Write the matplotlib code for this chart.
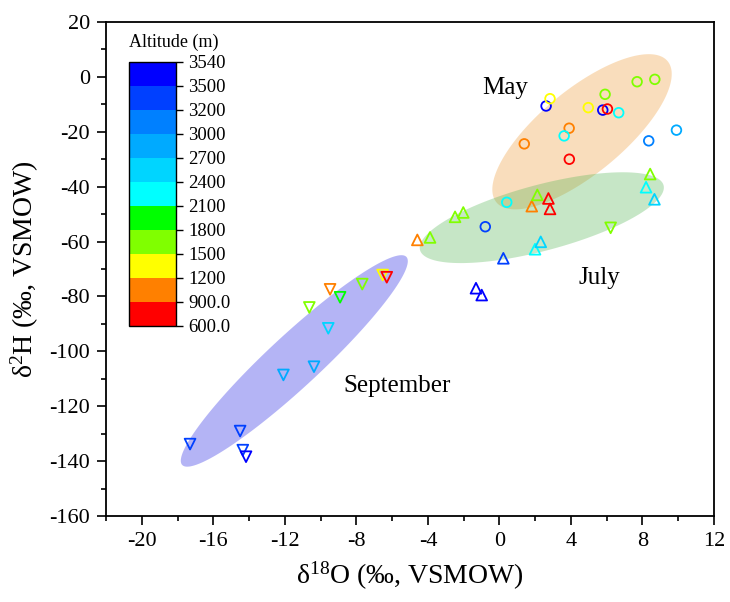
import numpy as np
import matplotlib
matplotlib.use("Agg")
import matplotlib.pyplot as plt
from matplotlib.colors import ListedColormap, BoundaryNorm
from matplotlib.patches import Polygon

plt.rcParams['font.family'] = ['Liberation Serif', 'DejaVu Serif']
plt.rcParams['mathtext.fontset'] = 'custom'
plt.rcParams['mathtext.rm'] = 'Liberation Serif'
plt.rcParams['mathtext.it'] = 'Liberation Serif:italic'
plt.rcParams['axes.unicode_minus'] = False

# ---------------- data ----------------
# May (circles)
may_x = [1.39, 2.61, 2.83, 3.90, 3.62, 3.91, 4.97, 5.78, 6.04, 5.91, 6.67, 7.70, 8.69, 8.35, 9.90, 0.41, -0.79]
may_y = [-24.4, -10.6, -7.95, -18.7, -21.5, -30.0, -11.2, -12.1, -11.7, -6.35, -13.05, -1.76, -0.9, -23.3, -19.4, -45.7, -54.6]
may_alt = [1050, 3520, 1350, 1050, 2250, 750, 1350, 3520, 750, 1650, 2250, 1650, 1650, 3100, 2850, 2250, 3350]

# July (up triangles)
jul_x = [-4.59, -3.88, -2.48, -2.02, 0.22, -1.31, -0.99, 1.99, 2.31, 1.81, 2.12, 2.74, 2.83, 8.43, 8.20, 8.67]
jul_y = [-59.4, -58.5, -51.0, -49.4, -66.1, -77.0, -79.5, -62.8, -60.1, -47.1, -43.0, -44.3, -48.1, -35.4, -40.2, -44.6]
jul_alt = [1050, 1650, 1650, 1650, 3350, 3520, 3520, 2250, 2550, 1050, 1650, 750, 750, 1650, 2250, 2550]

# September (down triangles)
sep_x = [6.22, -17.30, -14.50, -14.35, -14.17, -12.08, -10.37, -9.57, -10.63, -9.47, -8.91, -7.67, -6.53, -6.30]
sep_y = [-55.0, -133.8, -129.05, -136.0, -138.4, -108.6, -105.6, -91.6, -84.0, -77.4, -80.3, -75.5, -72.2, -73.0]
sep_alt = [1650, 3350, 3350, 3350, 3520, 2850, 2850, 2550, 1650, 1050, 1950, 1650, 1350, 750]

# colour scale
levels = [600, 900, 1200, 1500, 1800, 2100, 2400, 2700, 3000, 3200, 3500, 3540]
level_labels = ['600.0', '900.0', '1200', '1500', '1800', '2100', '2400', '2700', '3000', '3200', '3500', '3540']
band_colors = ['#FF0000', '#FF8000', '#FFFF00', '#80FF00', '#00FF00', '#00FFFF',
               '#00D5FF', '#00AAFF', '#0080FF', '#0040FF', '#0000FF']

# group ellipses: centre, first and second conjugate semi-axis vectors (data units)
ell_names = ['May', 'July', 'September']
ell_cx = [4.62, 2.37, -11.47]
ell_cy = [-20.0, -51.3, -103.5]
ell_v1 = [(4.79, 25.7), (6.81, 11.8), (6.27, 37.9)]
ell_v2 = [(-1.49, 11.8), (-0.475, 11.6), (-0.99, 6.95)]
ell_colors = ['#F0A040', '#50B450', '#5A5AEB']
ell_alpha = [0.35, 0.32, 0.45]

# group labels
lab_text = ['May', 'July', 'September']
lab_x = [0.32, 5.57, -5.73]
lab_y = [-4.2, -73.3, -112.7]

xticks = [-20, -16, -12, -8, -4, 0, 4, 8, 12]
yticks = [-160, -140, -120, -100, -80, -60, -40, -20, 0, 20]

# ---------------- figure ----------------
fig = plt.figure(figsize=(7.30, 6.02), dpi=100)
ax = fig.add_axes([106/730, 1-516/602, (714-106)/730, (516-22)/602])

cmap = ListedColormap(band_colors)
norm = BoundaryNorm(levels, cmap.N)

t = np.linspace(0, 2*np.pi, 200)
for cx, cy, v1, v2, col, al in zip(ell_cx, ell_cy, ell_v1, ell_v2, ell_colors, ell_alpha):
    px = cx + np.cos(t)*v1[0] + np.sin(t)*v2[0]
    py = cy + np.cos(t)*v1[1] + np.sin(t)*v2[1]
    ax.add_patch(Polygon(np.column_stack([px, py]), closed=True,
                         facecolor=col, alpha=al, edgecolor='none', zorder=1))

ax.scatter(may_x, may_y, s=48, marker='o', facecolors='none',
           edgecolors=cmap(norm(may_alt)), linewidths=1.3, zorder=3)
ax.scatter(jul_x, jul_y, s=60, marker='^', facecolors='none',
           edgecolors=cmap(norm(jul_alt)), linewidths=1.3, zorder=3)
ax.scatter(sep_x, sep_y, s=60, marker='v', facecolors='none',
           edgecolors=cmap(norm(sep_alt)), linewidths=1.3, zorder=3)

for txt, x, y in zip(lab_text, lab_x, lab_y):
    ax.text(x, y, txt, fontsize=18, ha='center', va='center', zorder=4)

ax.set_xlim(-22, 12)
ax.set_ylim(-160, 20)
ax.set_xticks(xticks)
ax.set_yticks(yticks)
ax.set_xticks(np.arange(-22, 12.1, 2), minor=True)
ax.set_yticks(np.arange(-160, 20.1, 10), minor=True)
ax.tick_params(which='major', direction='out', length=6.5, width=1.2, labelsize=16, pad=5,
               top=False, right=False)
ax.tick_params(which='minor', direction='out', length=3.5, width=1.2, top=False, right=False)
for sp in ax.spines.values():
    sp.set_linewidth(1.3)

ax.set_xlabel(r'δ$^{\mathrm{18}}$O (‰, VSMOW)', fontsize=20, labelpad=6)
ax.set_ylabel(r'δ$^{\mathrm{2}}$H (‰, VSMOW)', fontsize=20, labelpad=6)

# colorbar inside plot
cax = fig.add_axes([129/730, 1-326/602, 47/730, (326-62)/602])
cb = fig.colorbar(matplotlib.cm.ScalarMappable(norm=norm, cmap=cmap), cax=cax,
                  boundaries=levels, spacing='uniform', ticks=levels)
cb.ax.set_yticklabels(level_labels)
cb.ax.tick_params(direction='out', length=5, width=1.0, labelsize=13.5, pad=4)
cb.outline.set_linewidth(1.0)
cb.ax.text(0.0, 1.04, 'Altitude (m)', transform=cb.ax.transAxes, fontsize=13,
           ha='left', va='bottom')

fig.savefig('out.png', dpi=100)
